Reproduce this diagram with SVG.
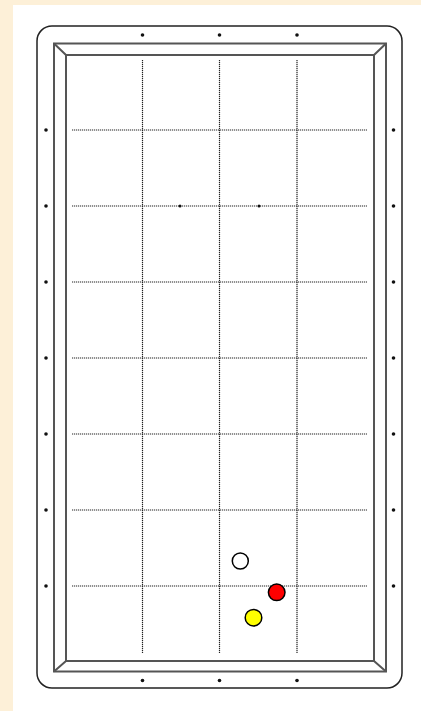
<svg xmlns="http://www.w3.org/2000/svg" width="421" height="711" viewBox="0 0 421 711">
<style>
.frame{fill:none;stroke:#222;stroke-width:1.5}
.cush{fill:none;stroke:#555;stroke-width:2}
.grid{stroke:#222;stroke-width:1.2;stroke-dasharray:1.2 0.8}
.dia{fill:#111}
.ball{stroke:#000;stroke-width:1.5}
</style>
<rect x="0" y="0" width="421" height="711" fill="#fdf0d8"/>
<rect x="13" y="5" width="408" height="706" fill="#fff"/>
<g id="table">
<rect class="frame" x="37" y="26" width="365" height="662" rx="15"/>
<rect class="cush" x="54" y="43.5" width="332" height="628"/>
<rect class="cush" x="66" y="55" width="308" height="606" stroke="#333"/>
<path class="cush" d="M54 43.5L66 55M386 43.5L374 55M54 671.5L66 661M386 671.5L374 661"/>
</g>
<g id="grid">
<path class="grid" d="M142.5 60V653M219.5 60V653M297 60V653"/>
<path class="grid" d="M72 130H367M72 206H367M72 282H367M72 358H367M72 434H367M72 510H367M72 586H367"/>
<circle class="dia" cx="180" cy="206" r="1.5"/>
<circle class="dia" cx="259" cy="206" r="1.5"/>
</g>
<g id="diamonds">
<circle class="dia" cx="142.5" cy="35" r="1.8"/><circle class="dia" cx="219.5" cy="35" r="1.8"/><circle class="dia" cx="297" cy="35" r="1.8"/>
<circle class="dia" cx="142.5" cy="680.5" r="1.8"/><circle class="dia" cx="219.5" cy="680.5" r="1.8"/><circle class="dia" cx="297" cy="680.5" r="1.8"/>
<circle class="dia" cx="46" cy="130" r="1.8"/><circle class="dia" cx="46" cy="206" r="1.8"/><circle class="dia" cx="46" cy="282" r="1.8"/><circle class="dia" cx="46" cy="358" r="1.8"/><circle class="dia" cx="46" cy="434" r="1.8"/><circle class="dia" cx="46" cy="510" r="1.8"/><circle class="dia" cx="46" cy="586" r="1.8"/>
<circle class="dia" cx="393.5" cy="130" r="1.8"/><circle class="dia" cx="393.5" cy="206" r="1.8"/><circle class="dia" cx="393.5" cy="282" r="1.8"/><circle class="dia" cx="393.5" cy="358" r="1.8"/><circle class="dia" cx="393.5" cy="434" r="1.8"/><circle class="dia" cx="393.5" cy="510" r="1.8"/><circle class="dia" cx="393.5" cy="586" r="1.8"/>
</g>
<g id="ball-white"><circle class="ball" cx="240.3" cy="561" r="8" fill="#fff"/></g>
<g id="ball-red"><circle class="ball" cx="276.7" cy="592.3" r="8.3" fill="#f00"/></g>
<g id="ball-yellow"><circle class="ball" cx="253.5" cy="617.7" r="8.3" fill="#ff0"/></g>
</svg>
